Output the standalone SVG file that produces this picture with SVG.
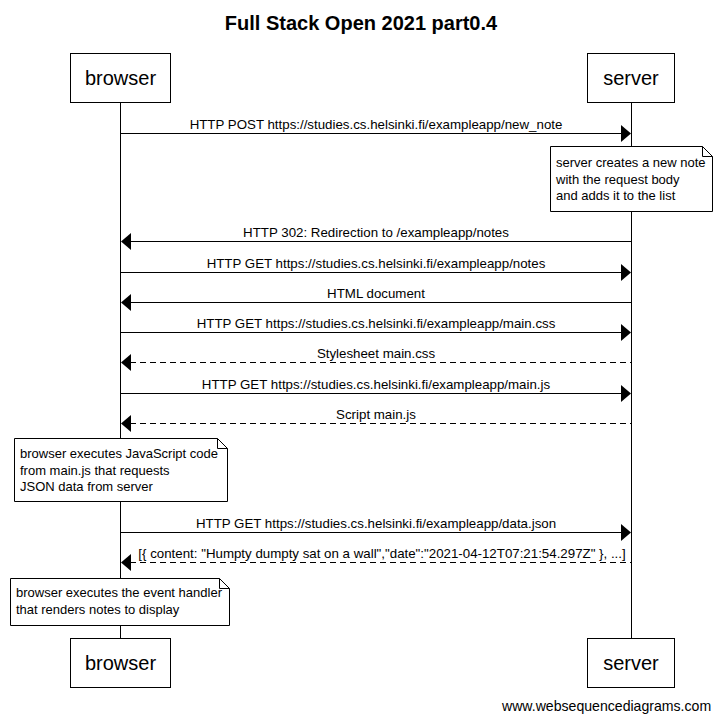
<svg xmlns="http://www.w3.org/2000/svg" width="722" height="721" viewBox="0 0 722 721">
<defs>
<style>
text{font-family:"Liberation Sans",Arial,sans-serif;fill:#000}
.title{font-size:20px;font-weight:bold;text-anchor:middle}
.actor{font-size:20px;text-anchor:middle}
.lbl{font-size:13.3px;text-anchor:middle}
.note{font-size:13px}
.box{fill:#fff;stroke:#000;stroke-width:1}
.life{stroke:#000;stroke-width:1}
.msg{stroke:#000;stroke-width:1;fill:none}
.dash{stroke-dasharray:6,4}
.head{fill:#000}
.wm{font-size:14.1px}
</style>
</defs>
<rect width="722" height="721" fill="#fff"/>
<text class="title" x="361" y="30">Full Stack Open 2021 part0.4</text>

<g id="lifelines">
<line class="life" x1="120.5" y1="102" x2="120.5" y2="638"/>
<line class="life" x1="631.5" y1="102" x2="631.5" y2="638"/>
</g>

<g id="browser-top"><rect class="box" x="70.5" y="53.5" width="100" height="49"/><text class="actor" x="120.5" y="85">browser</text></g>
<g id="server-top"><rect class="box" x="587.5" y="53.5" width="87" height="49"/><text class="actor" x="631" y="85">server</text></g>
<g id="browser-bottom"><rect class="box" x="70.5" y="638.5" width="100" height="49"/><text class="actor" x="120.5" y="670">browser</text></g>
<g id="server-bottom"><rect class="box" x="587.5" y="638.5" width="87" height="49"/><text class="actor" x="631" y="670">server</text></g>

<g id="connectors">
<line class="msg" x1="121" y1="133.5" x2="622" y2="133.5"/><polygon class="head" points="631,133.5 621,125 621,142"/>
<text class="lbl" x="376" y="129">HTTP POST https://studies.cs.helsinki.fi/exampleapp/new_note</text>

<line class="msg" x1="130" y1="241.5" x2="631" y2="241.5"/><polygon class="head" points="121,241.5 131,233 131,250"/>
<text class="lbl" x="376" y="237">HTTP 302: Redirection to /exampleapp/notes</text>

<line class="msg" x1="121" y1="272.5" x2="622" y2="272.5"/><polygon class="head" points="631,272.5 621,264 621,281"/>
<text class="lbl" x="376" y="268">HTTP GET https://studies.cs.helsinki.fi/exampleapp/notes</text>

<line class="msg" x1="130" y1="302.5" x2="631" y2="302.5"/><polygon class="head" points="121,302.5 131,294 131,311"/>
<text class="lbl" x="376" y="298">HTML document</text>

<line class="msg" x1="121" y1="332.5" x2="622" y2="332.5"/><polygon class="head" points="631,332.5 621,324 621,341"/>
<text class="lbl" x="376" y="328">HTTP GET https://studies.cs.helsinki.fi/exampleapp/main.css</text>

<line class="msg dash" x1="130" y1="362.5" x2="631" y2="362.5"/><polygon class="head" points="121,362.5 131,354 131,371"/>
<text class="lbl" x="376" y="358">Stylesheet main.css</text>

<line class="msg" x1="121" y1="393.5" x2="622" y2="393.5"/><polygon class="head" points="631,393.5 621,385 621,402"/>
<text class="lbl" x="376" y="389">HTTP GET https://studies.cs.helsinki.fi/exampleapp/main.js</text>

<line class="msg dash" x1="130" y1="423.5" x2="631" y2="423.5"/><polygon class="head" points="121,423.5 131,415 131,432"/>
<text class="lbl" x="376" y="419">Script main.js</text>

<line class="msg" x1="121" y1="532.5" x2="622" y2="532.5"/><polygon class="head" points="631,532.5 621,524 621,541"/>
<text class="lbl" x="376" y="528">HTTP GET https://studies.cs.helsinki.fi/exampleapp/data.json</text>

<line class="msg dash" x1="130" y1="562.5" x2="631" y2="562.5"/><polygon class="head" points="121,562.5 131,554 131,571"/>
<text class="lbl" x="382" y="558">[{ content: "Humpty dumpty sat on a wall","date":"2021-04-12T07:21:54.297Z" }, ...]</text>
</g>

<g id="note-server">
<path class="box" d="M550.5,146.5 H702.5 L712.5,156.5 V211.5 H550.5 Z"/>
<path class="msg" d="M702.5,146.5 V156.5 H712.5"/>
<text class="note" x="556" y="167">server creates a new note</text>
<text class="note" x="556" y="184">with the request body</text>
<text class="note" x="556" y="200">and adds it to the list</text>
</g>

<g id="note-browser-1">
<path class="box" d="M14.5,438.5 H217.5 L227.5,448.5 V501.5 H14.5 Z"/>
<path class="msg" d="M217.5,438.5 V448.5 H227.5"/>
<text class="note" x="20" y="458">browser executes JavaScript code</text>
<text class="note" x="20" y="475">from main.js that requests</text>
<text class="note" x="20" y="491">JSON data from server</text>
</g>

<g id="note-browser-2">
<path class="box" d="M10.5,578.5 H219.5 L229.5,588.5 V625.5 H10.5 Z"/>
<path class="msg" d="M219.5,578.5 V588.5 H229.5"/>
<text class="note" x="16" y="597">browser executes the event handler</text>
<text class="note" x="16" y="614">that renders notes to display</text>
</g>

<text class="wm" x="502" y="711">www.websequencediagrams.com</text>
</svg>
